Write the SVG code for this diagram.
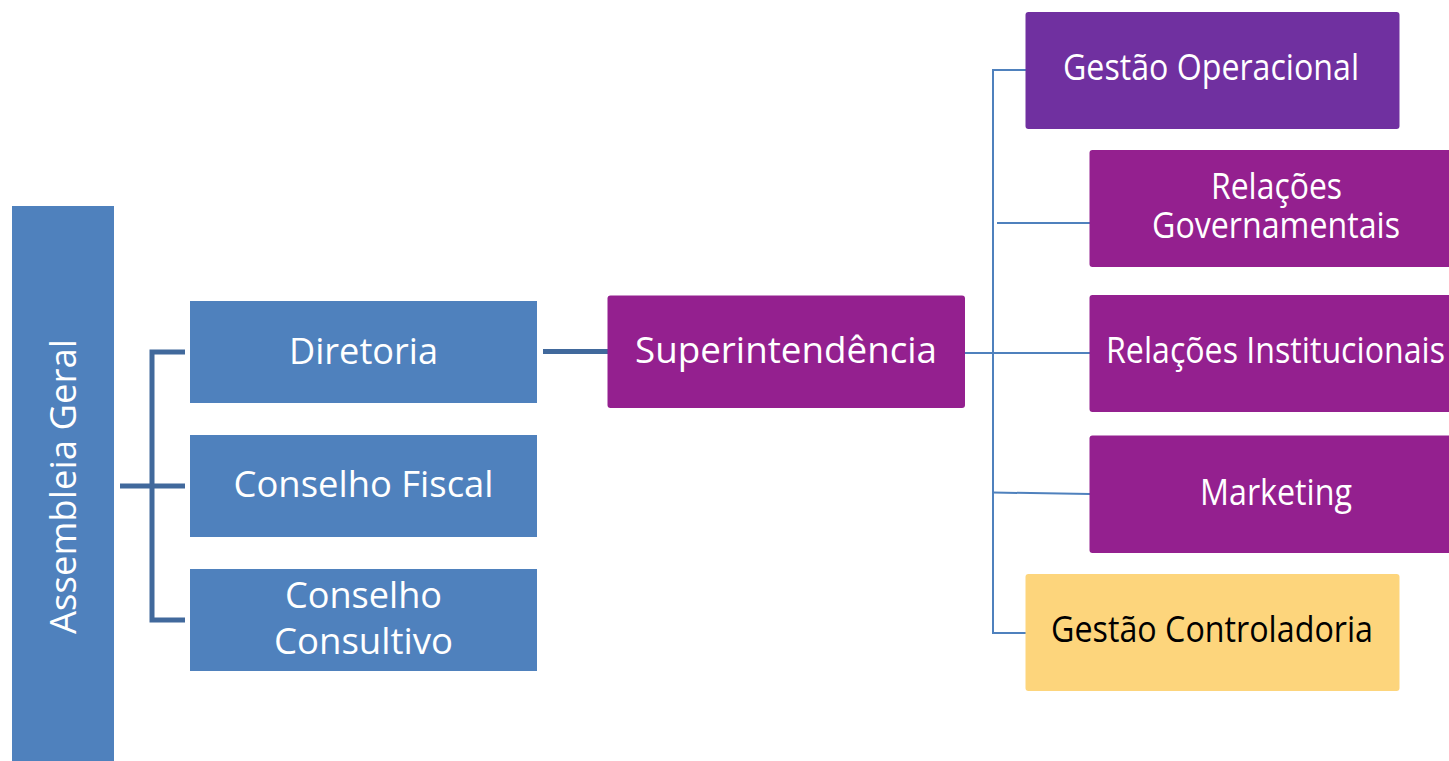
<svg xmlns="http://www.w3.org/2000/svg" width="1449" height="761" viewBox="0 0 1449 761">
<style>
.t{font-family:"Open Sans","Noto Sans","Liberation Sans",sans-serif;font-size:36px;fill:#ffffff;text-anchor:middle}
.dk{fill:#000000}
.blue{fill:#4F81BD}
.purple{fill:#94208F}
.violet{fill:#7030A0}
.gold{fill:#FDD57C}
.thick{stroke:#41699C;stroke-width:5;fill:none}
.thin{stroke:#4F81BD;stroke-width:2;fill:none}
</style>
<rect width="1449" height="761" fill="#ffffff"/>
<g id="connectors">
<polyline class="thick" points="185,352 152,352 152,620 185,620"/>
<line class="thick" x1="120" y1="486" x2="185" y2="486"/>
<line class="thick" x1="543" y1="351.5" x2="608" y2="351.5"/>
<line class="thin" x1="993" y1="70" x2="993" y2="633"/>
<line class="thin" x1="992" y1="70" x2="1026" y2="70"/>
<line class="thin" x1="997" y1="223" x2="1090" y2="223"/>
<line class="thin" x1="964" y1="353" x2="1090" y2="353"/>
<line class="thin" x1="993" y1="492.5" x2="1090" y2="494"/>
<line class="thin" x1="992" y1="633" x2="1026" y2="633"/>
</g>
<g id="assembleia">
<rect class="blue" x="12" y="206" width="102" height="560"/>
<text class="t" transform="translate(76,486.5) rotate(-90)" textLength="295" lengthAdjust="spacingAndGlyphs">Assembleia Geral</text>
</g>
<g id="diretoria">
<rect class="blue" x="190" y="301" width="347" height="102"/>
<text class="t" x="363.5" y="364" textLength="149" lengthAdjust="spacingAndGlyphs">Diretoria</text>
</g>
<g id="conselho-fiscal">
<rect class="blue" x="190" y="435" width="347" height="102"/>
<text class="t" x="363.5" y="497" textLength="260" lengthAdjust="spacingAndGlyphs">Conselho Fiscal</text>
</g>
<g id="conselho-consultivo">
<rect class="blue" x="190" y="569" width="347" height="102"/>
<text class="t" x="363.5" y="608" textLength="157" lengthAdjust="spacingAndGlyphs">Conselho</text>
<text class="t" x="363.5" y="654" textLength="179" lengthAdjust="spacingAndGlyphs">Consultivo</text>
</g>
<g id="superintendencia">
<rect class="purple" x="607.5" y="295.5" width="357.5" height="112.5" rx="3"/>
<text class="t" x="786" y="363" textLength="302" lengthAdjust="spacingAndGlyphs">Superintendência</text>
</g>
<g id="gestao-operacional">
<rect class="violet" x="1025.5" y="12" width="374" height="117" rx="3"/>
<text class="t" x="1211" y="80" textLength="296" lengthAdjust="spacingAndGlyphs">Gestão Operacional</text>
</g>
<g id="relacoes-governamentais">
<rect class="purple" x="1089.5" y="150" width="380" height="117" rx="3"/>
<text class="t" x="1276.5" y="199" textLength="131" lengthAdjust="spacingAndGlyphs">Relações</text>
<text class="t" x="1276" y="238" textLength="248" lengthAdjust="spacingAndGlyphs">Governamentais</text>
</g>
<g id="relacoes-institucionais">
<rect class="purple" x="1089.5" y="295" width="380" height="117" rx="3"/>
<text class="t" x="1275.5" y="363" textLength="339" lengthAdjust="spacingAndGlyphs">Relações Institucionais</text>
</g>
<g id="marketing">
<rect class="purple" x="1089.5" y="435.5" width="380" height="117.5" rx="3"/>
<text class="t" x="1276" y="505" textLength="152" lengthAdjust="spacingAndGlyphs">Marketing</text>
</g>
<g id="gestao-controladoria">
<rect class="gold" x="1025.5" y="574" width="374" height="117" rx="3"/>
<text class="t dk" x="1212" y="642" textLength="322" lengthAdjust="spacingAndGlyphs">Gestão Controladoria</text>
</g>
</svg>
